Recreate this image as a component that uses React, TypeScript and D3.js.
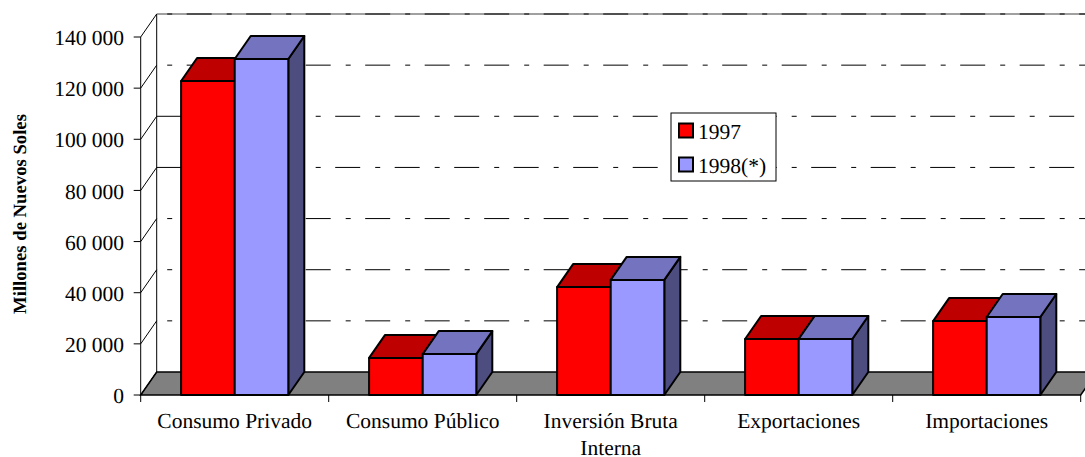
import React from "react";
import * as d3 from "d3";

const categories = [
  ["Consumo Privado"],
  ["Consumo Público"],
  ["Inversión Bruta", "Interna"],
  ["Exportaciones"],
  ["Importaciones"],
];
const values1997 = [122800, 14500, 42200, 21900, 28900];
const values1998 = [131400, 16000, 45000, 21900, 30500];
const seriesNames = ["1997", "1998(*)"];
const yTicks = [0, 20000, 40000, 60000, 80000, 100000, 120000, 140000];
// these two gridlines start on a dash, the others start in the gap
const dashStartTicks = [80000, 100000];

const WIDTH = 1085;
const HEIGHT = 457;
const DX = 16;
const DY = -23;
const FONT = "'Liberation Serif', 'Times New Roman', serif";
const GRID_DASH = "25 15 5 14.5";

const palette = [
  { front: "#ff0000", top: "#bf0000", side: "#7f0000" },
  { front: "#9999ff", top: "#7373bf", side: "#4d4d80" },
];

const x = d3.scaleBand<number>().domain(d3.range(categories.length)).range([140.7, 1080.7]);
const y = d3.scaleLinear().domain([0, 140000]).range([395, 37]);
const fmt = (v: number) => d3.format(",")(v).replace(/,/g, " ");
const pts = (p: number[][]) => p.map((d) => d.join(",")).join(" ");

const Bar = ({ left, value, width, color }: any) => {
  const top = y(value);
  const bottom = y(0);
  return (
    <g stroke="#000" strokeWidth={2} strokeLinejoin="round">
      <polygon
        fill={color.side}
        points={pts([
          [left + width, top],
          [left + width + DX, top + DY],
          [left + width + DX, bottom + DY],
          [left + width, bottom],
        ])}
      />
      <polygon
        fill={color.top}
        points={pts([
          [left, top],
          [left + DX, top + DY],
          [left + width + DX, top + DY],
          [left + width, top],
        ])}
      />
      <rect x={left} y={top} width={width} height={bottom - top} fill={color.front} />
    </g>
  );
};

export default function App() {
  const barW = 53.6;
  const y0 = y(0);
  const x0 = x.range()[0];
  const x1 = x.range()[1];
  const topTick = yTicks[yTicks.length - 1];
  return (
    <svg
      width={WIDTH}
      height={HEIGHT}
      style={{ position: "absolute", left: 0, top: 0, background: "#fff" }}
      fontFamily={FONT}
      textRendering="geometricPrecision"
    >
      {/* floor */}
      <polygon
        points={pts([
          [x0, y0],
          [x0 + DX, y0 + DY],
          [x1 + DX, y0 + DY],
          [x1, y0],
        ])}
        fill="#808080"
        stroke="#000"
        strokeWidth={1.5}
      />
      {/* walls */}
      <line x1={x0 + DX} x2={x0 + DX} y1={y0 + DY} y2={y(topTick) + DY} stroke="#000" />
      <line x1={x0 + DX} x2={WIDTH} y1={y(topTick) + DY} y2={y(topTick) + DY} stroke="#808080" strokeWidth={1.5} />
      {yTicks.slice(1).map((t) => (
        <line
          key={t}
          x1={x0 + DX}
          x2={WIDTH}
          y1={y(t) + DY}
          y2={y(t) + DY}
          stroke="#000"
          strokeDasharray={GRID_DASH}
          strokeDashoffset={dashStartTicks.includes(t) ? 0 : 29.5}
        />
      ))}
      {yTicks.map((t) => (
        <line key={t} x1={x0} x2={x0 + DX} y1={y(t)} y2={y(t) + DY} stroke="#000" />
      ))}
      {/* axes */}
      <line x1={x0} x2={x0} y1={y0} y2={y(topTick)} stroke="#000" />
      {yTicks.map((t) => (
        <g key={t}>
          <line x1={x0 - 7} x2={x0} y1={y(t)} y2={y(t)} stroke="#000" />
          <text x={124} y={y(t)} dy="0.38em" textAnchor="end" fontSize={21.5} fill="#000">
            {fmt(t)}
          </text>
        </g>
      ))}
      {d3.range(categories.length + 1).map((i) => {
        const tx = i < categories.length ? x(i)! : x1;
        return <line key={i} x1={tx} x2={tx} y1={y0} y2={y0 + 7} stroke="#000" />;
      })}
      {/* bars */}
      {categories.map((_, i) => {
        const mid = x(i)! + x.bandwidth() / 2;
        return (
          <g key={i}>
            <Bar left={mid - barW} value={values1997[i]} width={barW} color={palette[0]} />
            <Bar left={mid} value={values1998[i]} width={barW} color={palette[1]} />
          </g>
        );
      })}
      {/* category labels */}
      {categories.map((lines, i) => (
        <text
          key={i}
          x={x(i)! + x.bandwidth() / 2}
          y={427.5}
          textAnchor="middle"
          fontSize={21.5}
          fill="#000"
        >
          {lines.map((l, j) => (
            <tspan key={j} x={x(i)! + x.bandwidth() / 2} dy={j === 0 ? 0 : 27.5}>
              {l}
            </tspan>
          ))}
        </text>
      ))}
      <text
        transform="translate(26,214) rotate(-90)"
        textAnchor="middle"
        fontSize={18.7}
        fontWeight="bold"
        fill="#000"
      >
        Millones de Nuevos Soles
      </text>
      {/* legend */}
      <rect x={671} y={113} width={105} height={68} fill="#fff" stroke="#000" />
      {seriesNames.map((name, i) => (
        <g key={name}>
          <rect
            x={679}
            y={123.5 + i * 34}
            width={14}
            height={14}
            fill={palette[i].front}
            stroke="#000"
            strokeWidth={2}
          />
          <text x={698} y={132 + i * 34} dy="0.34em" fontSize={21.5} fill="#000">
            {name}
          </text>
        </g>
      ))}
    </svg>
  );
}
